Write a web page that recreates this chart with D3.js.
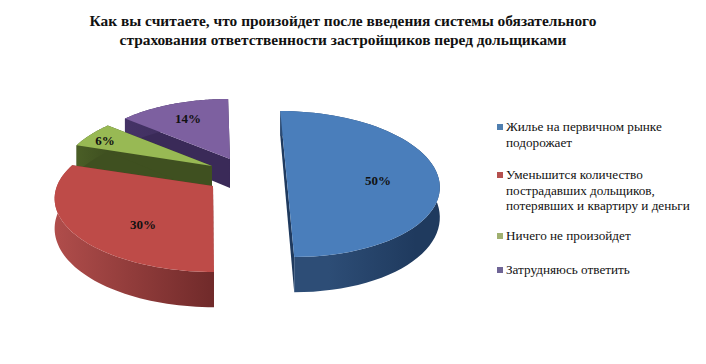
<!DOCTYPE html>
<html>
<head>
<meta charset="utf-8">
<script src="https://cdn.jsdelivr.net/npm/d3@7"></script>
<style>
  html, body { margin: 0; padding: 0; background: #fff; }
  text { font-family: "Liberation Serif", serif; fill: #111; }
</style>
</head>
<body>
<div id="chart-area"></div>
<script>
const titleLines = [
  "Как вы считаете, что произойдет после введения системы обязательного",
  "страхования ответственности застройщиков перед дольщиками"
];
const categories = ["Жилье на первичном рынке подорожает", "Уменьшится количество пострадавших дольщиков, потерявших и квартиру и деньги", "Ничего не произойдет", "Затрудняюсь ответить"];
const values = [50, 30, 6, 14];
const percentLabels = ["50%", "30%", "6%", "14%"];
const legendLines = [
  ["Жилье на первичном рынке", "подорожает"],
  ["Уменьшится количество", "пострадавших дольщиков,", "потерявших и квартиру и деньги"],
  ["Ничего не произойдет"],
  ["Затрудняюсь ответить"]
];
const topColors = ["#4a7ebb", "#be4b48", "#98b954", "#7d60a0"];
const wallColors = ["#1f3a5e", "#702a2a", "#3f5020", "#3a2a58"];
const wallLight = ["#2d4d76", "#b04d4b", "#4a5e26", "#453366"];
const legendColors = ["#4f7fb0", "#b5504e", "#a0b070", "#6f6596"];

// exploded slices: where each apex sits on screen
const apexes = [[286, 171], [213, 186], [212, 166], [230, 159]];
const radii = [150, 156, 150, 150];
const labelPos = [[378, 181], [143, 225], [105, 141], [188, 119]];
const legendY = [[127, 143], [175, 191, 206], [236], [270]];

const svg = d3.select("#chart-area")
  .append("svg")
    .attr("width", 706)
    .attr("height", 364)
    .style("display", "block");

const color = d3.scaleOrdinal().domain(categories).range(topColors);

const pie = d3.pie().sort(null).value(d => d);
const slices = pie(values);

// perspective of the floor the pie lies on
const tilt = 0.178;
const horizon = 397;
const vanishX = 203;
const vanishH = 869;
const thick = 29;

function project(i, angle, r) {
  const [ax, ay] = apexes[i];
  const u = Math.sin(angle) * r;
  const v = Math.cos(angle) * r;
  const s = 1 / (1 + tilt * v);
  const y = ay - horizon * (1 - s);
  const x = ax + radii[i] * u * s + (ax - vanishX) / vanishH * (y - ay);
  return { x, y, t: thick * s };
}

const angleSteps = (a0, a1) => d3.range(0, 61).map(k => a0 + (a1 - a0) * k / 60);
const line = d3.line().x(d => d.x).y(d => d.y);
const lowered = p => ({ x: p.x, y: p.y + p.t });

const defs = svg.append("defs");

// back to front: purple, green, red, blue
[3, 2, 1, 0].forEach(i => {
  const d = slices[i];
  const arc = angleSteps(d.startAngle, d.endAngle).map(a => project(i, a, 1));
  const apex = project(i, 0, 0);
  const g = svg.append("g").attr("class", "slice");

  const xs = d3.extent(arc, p => p.x);
  const grad = defs.append("linearGradient")
    .attr("id", "wall" + i)
    .attr("gradientUnits", "userSpaceOnUse")
    .attr("x1", xs[0]).attr("x2", xs[1]).attr("y1", 0).attr("y2", 0);
  const first = i === 0 ? wallColors[i] : wallLight[i];
  const last = i === 0 ? wallLight[i] : wallColors[i];
  grad.append("stop").attr("offset", i === 0 ? "30%" : "0%").attr("stop-color", i === 0 ? last : first);
  grad.append("stop").attr("offset", i === 0 ? "85%" : "100%").attr("stop-color", i === 0 ? first : last);

  // radial walls
  [arc[0], arc[arc.length - 1]].forEach(p => {
    g.append("path")
      .attr("d", line([apex, p, lowered(p), lowered(apex)]) + "Z")
      .attr("fill", wallColors[i]);
  });
  // outer wall
  g.append("path")
    .attr("d", line(arc.concat(arc.map(lowered).reverse())) + "Z")
    .attr("fill", `url(#wall${i})`);
  // top face
  g.append("path")
    .attr("d", line([apex].concat(arc)) + "Z")
    .attr("fill", color(categories[i]));
});

// value labels
svg.selectAll(".pct")
  .data(percentLabels)
  .enter()
  .append("text")
    .attr("class", "pct")
    .attr("x", (d, i) => labelPos[i][0])
    .attr("y", (d, i) => labelPos[i][1] + 4)
    .attr("text-anchor", "middle")
    .attr("font-size", "13px")
    .attr("font-weight", "bold")
    .text(d => d);

// title
svg.selectAll(".title")
  .data(titleLines)
  .enter()
  .append("text")
    .attr("class", "title")
    .attr("x", 343)
    .attr("y", (d, i) => 26 + i * 19)
    .attr("text-anchor", "middle")
    .attr("font-size", "15.4px")
    .attr("font-weight", "bold")
    .text(d => d);

// legend
legendLines.forEach((lines, i) => {
  svg.append("rect")
    .attr("x", 497)
    .attr("y", legendY[i][0] - 3)
    .attr("width", 6)
    .attr("height", 6)
    .attr("fill", legendColors[i]);
  lines.forEach((t, k) => {
    svg.append("text")
      .attr("class", "legend-text")
      .attr("x", 506)
      .attr("y", legendY[i][k] + 4)
      .attr("font-size", "13.2px")
      .text(t);
  });
});
</script>
</body>
</html>
